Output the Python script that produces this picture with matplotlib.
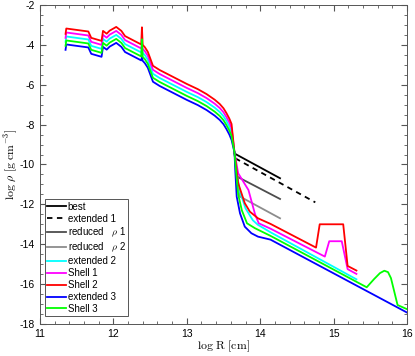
import matplotlib
matplotlib.use("Agg")
import matplotlib.pyplot as plt
from matplotlib.ticker import MultipleLocator

plt.rcParams['font.family'] = ['Liberation Sans', 'DejaVu Sans']
plt.rcParams['mathtext.fontset'] = 'cm'
plt.rcParams['axes.unicode_minus'] = False

# inner profile (shared radii), log R
r_in = [11.35, 11.36, 11.66, 11.70, 11.84, 11.86, 11.91, 11.95, 12.04, 12.11, 12.16, 12.38, 12.39,
        12.40, 12.43, 12.47, 12.54, 12.63, 13.00, 13.15, 13.27, 13.38, 13.45, 13.50, 13.54, 13.58,
        13.61, 13.65]
blue_in = [-4.25, -3.98, -4.13, -4.45, -4.60, -4.10, -4.24, -4.09, -3.90, -4.10, -4.36, -4.78, -4.62,
           -4.80, -4.92, -5.15, -5.85, -6.06, -6.76, -7.02, -7.27, -7.55, -7.77, -7.98, -8.22, -8.50,
           -8.77, -9.40]
green_in = [-4.05, -3.78, -3.93, -4.25, -4.40, -3.90, -4.04, -3.89, -3.70, -3.90, -4.16, -4.58, -3.72,
            -4.60, -4.72, -4.95, -5.65, -5.86, -6.56, -6.82, -7.07, -7.35, -7.57, -7.78, -8.02, -8.30,
            -8.57, -9.40]
cyan_in = [-3.85, -3.58, -3.73, -4.05, -4.20, -3.70, -3.84, -3.69, -3.50, -3.70, -3.96, -4.38, -4.22,
           -4.40, -4.52, -4.75, -5.45, -5.66, -6.36, -6.62, -6.87, -7.15, -7.37, -7.58, -7.82, -8.10,
           -8.37, -9.40]
magenta_in = [-3.65, -3.38, -3.53, -3.85, -4.00, -3.50, -3.64, -3.49, -3.30, -3.50, -3.76, -4.18, -4.02,
              -4.20, -4.32, -4.55, -5.25, -5.46, -6.16, -6.42, -6.67, -6.95, -7.17, -7.38, -7.62, -7.90,
              -8.17, -9.40]
red_in = [-3.45, -3.18, -3.33, -3.65, -3.80, -3.30, -3.44, -3.29, -3.10, -3.30, -3.56, -3.98, -3.12,
          -4.00, -4.12, -4.35, -5.05, -5.26, -5.96, -6.22, -6.47, -6.75, -6.97, -7.18, -7.42, -7.70,
          -7.97, -9.40]

# outer parts
r_best = [13.65, 14.27]
best = [-9.45, -10.69]
r_ext1 = [13.66, 14.75]
ext1 = [-9.69, -11.90]
r_red1 = [13.65, 13.68, 14.27]
red1 = [-9.40, -10.60, -11.73]
r_red2 = [13.65, 13.725, 14.27]
red2 = [-9.40, -11.61, -12.70]

r_cyan = [13.67, 13.72, 13.80, 13.90, 13.97, 14.14, 15.31]
cyan_out = [-10.20, -11.30, -12.20, -12.80, -13.03, -13.40, -15.76]
r_mag = [13.70, 13.84, 13.93, 13.98, 14.14, 14.88, 14.94, 15.11, 15.19, 15.31]
mag_out = [-10.44, -11.28, -12.50, -12.95, -13.22, -14.62, -13.85, -13.85, -15.25, -15.49]
r_red = [13.70, 13.79, 13.86, 13.97, 14.14, 14.76, 14.81, 15.13, 15.19, 15.31]
red_out = [-10.94, -11.94, -12.37, -12.70, -12.98, -14.17, -13.00, -13.00, -15.09, -15.32]
r_blue = [13.66, 13.68, 13.725, 13.79, 13.88, 13.97, 14.14, 16.00]
blue_out = [-10.27, -11.61, -12.45, -13.12, -13.45, -13.62, -13.77, -17.43]
r_green = [13.67, 13.70, 13.75, 13.82, 13.93, 14.14, 15.45, 15.55, 15.63, 15.69, 15.74, 15.78, 15.87, 16.00]
green_out = [-10.30, -11.50, -12.30, -12.95, -13.20, -13.58, -16.16, -15.75, -15.45, -15.33, -15.40, -15.70,
             -17.05, -17.26]

fig = plt.figure(figsize=(4.15, 3.56), dpi=100)
ax = fig.add_axes([0.096, 0.09, 0.885, 0.896])
lw = 1.3

ax.plot(r_best, best, color='k', lw=lw, label='best')
ax.plot(r_ext1, ext1, color='k', lw=lw, ls=(0, (3, 2.5)), label='extended 1')
ax.plot(r_red1, red1, color='#4d4d4d', lw=lw, label=r'reduced   $\rho$ 1')
ax.plot(r_red2, red2, color='#8c8c8c', lw=lw, label=r'reduced   $\rho$ 2')
ax.plot(r_in + r_cyan, cyan_in + cyan_out, color='#00ffff', lw=lw, label='extended 2')
ax.plot(r_in + r_mag, magenta_in + mag_out, color='#ff00ff', lw=lw, label='Shell 1')
ax.plot(r_in + r_red, red_in + red_out, color='#ff0000', lw=lw, label='Shell 2')
ax.plot(r_in + r_blue, blue_in + blue_out, color='#0000ff', lw=lw, label='extended 3')
ax.plot(r_in + r_green, green_in + green_out, color='#00ff00', lw=lw, label='Shell 3')

ax.set_xlim(11, 16)
ax.set_ylim(-18, -2)
ax.xaxis.set_major_locator(MultipleLocator(1))
ax.xaxis.set_minor_locator(MultipleLocator(0.2))
ax.yaxis.set_major_locator(MultipleLocator(2))
ax.yaxis.set_minor_locator(MultipleLocator(0.5))
ax.tick_params(which='both', direction='in', top=True, right=True, color='#555555', labelsize=7.5)
ax.tick_params(which='major', length=4)
ax.tick_params(which='minor', length=2)
for s in ax.spines.values():
    s.set_color('#555555')
    s.set_linewidth(0.7)

ax.set_xlabel(r'$\mathrm{log\ R\ [cm]}$', fontsize=8.5, labelpad=0)
ax.set_ylabel(r'$\mathrm{log}\ \rho\ \mathrm{[g\ cm^{-3}]}$', fontsize=8.5, labelpad=0)

leg = ax.legend(loc='lower left', bbox_to_anchor=(0.014, 0.024), borderaxespad=0, fontsize=7,
                handlelength=1.95, handletextpad=0.12, labelspacing=0.2, borderpad=0.25,
                fancybox=False, framealpha=1)
leg.get_frame().set_edgecolor('#555555')
leg.get_frame().set_linewidth(0.7)

fig.savefig('out.png', dpi=100)
